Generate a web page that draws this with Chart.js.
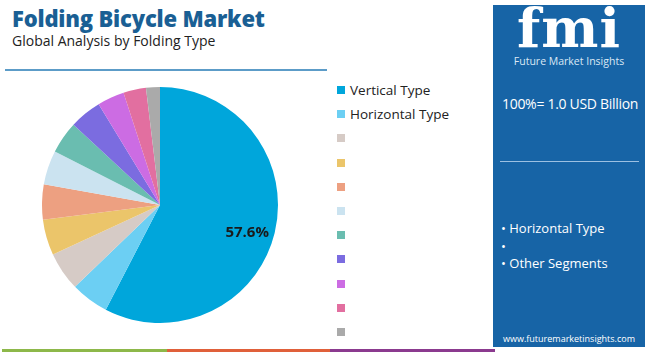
<!DOCTYPE html>
<html>
<head>
<meta charset="utf-8">
<script src="https://cdn.jsdelivr.net/npm/chart.js@4.4.0/dist/chart.umd.min.js"></script>
<style>
  body { margin: 0; width: 650px; height: 352px; position: relative; background: #fff; font-family: "Open Sans", sans-serif; overflow: hidden; }
  #title { position: absolute; left: 12px; top: 3px; font-size: 22px; font-weight: 800; color: #1a5f94; letter-spacing: -0.2px; }
  #subtitle { position: absolute; left: 12px; top: 31px; font-size: 14px; color: #222; }
  #rule { position: absolute; left: 5px; top: 69px; width: 322px; height: 2px; background: #5c9cc8; }
  #chartBox { position: absolute; left: 42px; top: 87px; width: 236px; height: 236px; }
  #legend { position: absolute; left: 337px; top: 78px; }
  .item { height: 24.2px; display: flex; align-items: center; font-size: 13.5px; color: #222; }
  .sw { width: 8px; height: 8px; margin-right: 5px; }
  #panel { position: absolute; left: 493px; top: 5px; width: 152px; height: 342px; background: #1764a6; color: #fff; }
  #logo { position: absolute; left: 0; width: 152px; top: -9px; text-align: center; font-family: "DejaVu Serif", serif; font-weight: bold; font-size: 54px; letter-spacing: 1px; }
  #logoSub { position: absolute; left: 0; width: 152px; top: 49px; text-align: center; font-size: 10.5px; color: #dbe8f5; }
  #total { position: absolute; left: 9px; top: 89px; font-size: 14px; white-space: nowrap; letter-spacing: -0.3px; }
  #rule2 { position: absolute; left: 7px; top: 156px; width: 139px; height: 1px; background: #9cc0e2; }
  .seg { position: absolute; left: 8px; font-size: 13px; }
  #url { position: absolute; left: 0; width: 152px; top: 327px; text-align: center; font-size: 9px; white-space: nowrap; }
  .bar { position: absolute; top: 349px; height: 3px; }
</style>
</head>
<body>
<div id="title">Folding Bicycle Market</div>
<div id="subtitle">Global Analysis by Folding Type</div>
<div id="rule"></div>
<div id="chartBox"><canvas id="pieChart"></canvas></div>
<div id="legend"></div>
<div id="panel">
  <div id="logo">fmi</div>
  <div id="logoSub">Future Market Insights</div>
  <div id="total">100%= 1.0 USD Billion</div>
  <div id="rule2"></div>
  <div class="seg" style="top:214px">• Horizontal Type</div>
  <div class="seg" style="top:232px">•</div>
  <div class="seg" style="top:249px">• Other Segments</div>
  <div id="url">www.futuremarketinsights.com</div>
</div>
<div class="bar" style="left:2px;width:165px;background:#8db84a"></div>
<div class="bar" style="left:167px;width:163px;background:#e0603a"></div>
<div class="bar" style="left:330px;width:165px;background:#8b3a8f"></div>
<script>
// Folding type shares (%)
const categories = ['Vertical Type', 'Horizontal Type', '', '', '', '', '', '', '', '', ''];
const shares = [57.6, 5.2, 5.3, 4.9, 4.8, 4.7, 4.4, 4.4, 3.7, 3.1, 1.9];
const colors = ['#00a6db', '#6ccff3', '#d6cbc6', '#ebc56a', '#eda081', '#cbe3f0',
                '#6abdb0', '#7b6ce0', '#cc6ce3', '#e26fa0', '#aaaaaa'];
const shownLabels = ['57.6%', '', '', '', '', '', '', '', '', '', ''];

// legend
const legend = document.getElementById('legend');
categories.forEach((name, i) => {
    const row = document.createElement('div');
    row.className = 'item';
    row.innerHTML = `<span class="sw" style="background:${colors[i]}"></span>${name}`;
    legend.appendChild(row);
});

// draw percentage labels inside slices
const sliceLabels = {
    id: 'sliceLabels',
    afterDatasetsDraw(chart) {
        const c = chart.ctx;
        chart.getDatasetMeta(0).data.forEach((arc, i) => {
            if (!shownLabels[i]) return;
            const p = arc.getProps(['x', 'y', 'startAngle', 'endAngle', 'outerRadius']);
            const mid = (p.startAngle + p.endAngle) / 2;
            const r = p.outerRadius * 0.76;
            c.save();
            c.font = 'bold 15px "Open Sans", sans-serif';
            c.fillStyle = '#1a1a1a';
            c.textAlign = 'center';
            c.textBaseline = 'middle';
            c.fillText(shownLabels[i], p.x + Math.cos(mid) * r, p.y + Math.sin(mid) * r + 7);
            c.restore();
        });
    }
};

new Chart(document.getElementById('pieChart'), {
    type: 'pie',
    data: {
        labels: categories,
        datasets: [{
            data: shares,
            backgroundColor: colors,
            borderWidth: 0
        }]
    },
    options: {
        responsive: true,
        maintainAspectRatio: false,
        animation: false,
        layout: { padding: 0 },
        plugins: {
            legend: { display: false },
            tooltip: { enabled: false }
        }
    },
    plugins: [sliceLabels]
});
</script>
</body>
</html>
